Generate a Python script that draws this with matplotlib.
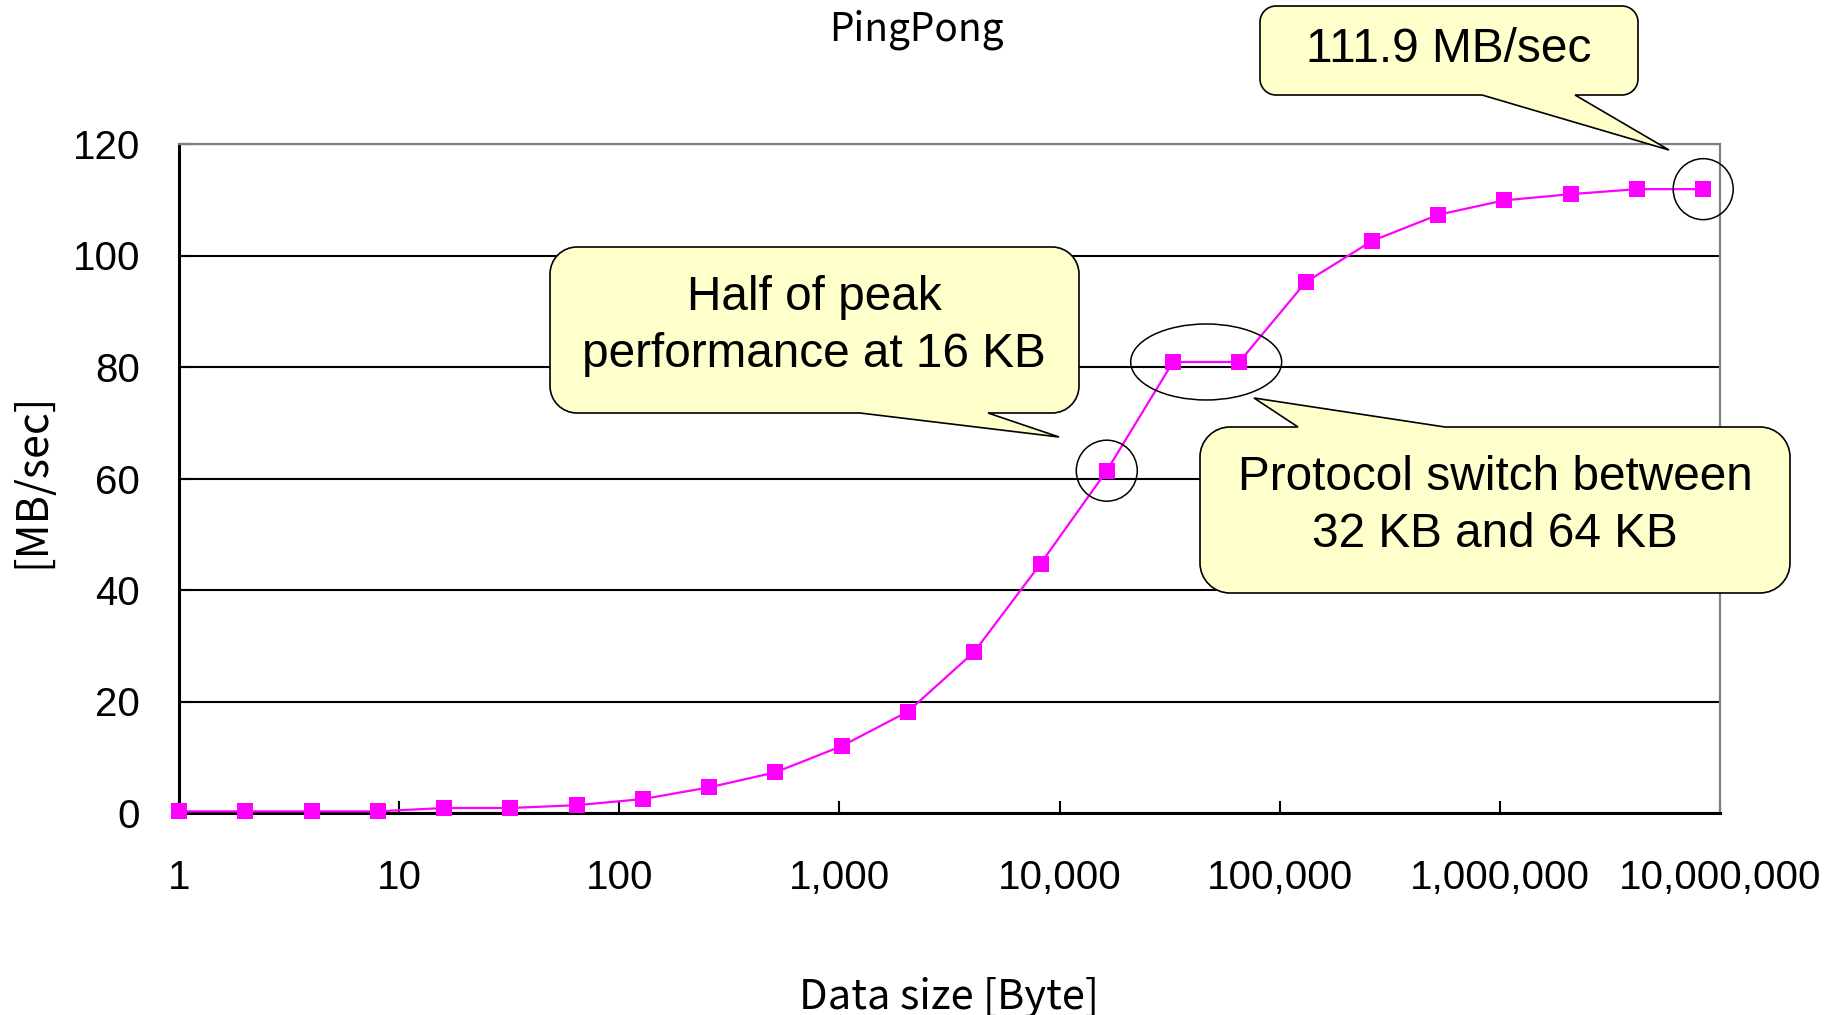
import matplotlib
matplotlib.use('Agg')
import matplotlib.pyplot as plt
from matplotlib.path import Path
from matplotlib.patches import PathPatch, Ellipse
from matplotlib.transforms import Affine2D, ScaledTranslation
from matplotlib.ticker import FuncFormatter, NullLocator, FixedLocator

# data
data_size = [1, 2, 4, 8, 16, 32, 64, 128, 256, 512, 1024, 2048, 4096, 8192,
             16384, 32768, 65536, 131072, 262144, 524288, 1048576, 2097152,
             4194304, 8388608]
mb_per_sec = [0.3, 0.3, 0.3, 0.3, 0.9, 0.9, 1.4, 2.5, 4.6, 7.3, 12.0, 18.2,
              28.9, 44.7, 61.4, 80.9, 80.9, 95.2, 102.6, 107.3, 109.9, 111.0,
              111.9, 111.9]
x_ticks = [1, 10, 100, 1000, 10000, 100000, 1000000, 10000000]
y_ticks = [0, 20, 40, 60, 80, 100, 120]

W, H = 1835, 1015
SANS = ['Liberation Sans', 'DejaVu Sans']
JP = ['Noto Sans CJK JP', 'DejaVu Sans']
YELLOW = '#FFFFCC'

fig = plt.figure(figsize=(W / 100, H / 100), dpi=100)
ax = fig.add_axes([179 / W, 202 / H, 1541 / W, 669 / H])

ax.plot(data_size, mb_per_sec, color='#FF00FF', lw=1.6, marker='s', ms=12,
        mew=0, zorder=3, clip_on=False)

ax.set_xscale('log')
ax.set_xlim(1, 1e7)
ax.set_ylim(0, 120)
ax.xaxis.set_major_locator(FixedLocator(x_ticks))
ax.xaxis.set_minor_locator(NullLocator())
ax.xaxis.set_major_formatter(FuncFormatter(lambda v, p: f'{int(round(v)):,}'))
ax.set_yticks(y_ticks)

ax.yaxis.grid(True, color='black', lw=1.5)
ax.set_axisbelow(True)
ax.tick_params(axis='x', direction='in', length=9, width=1.5, pad=33,
               labelsize=29)
ax.tick_params(axis='y', direction='in', length=9, width=1.5, pad=28,
               labelsize=29)
for lab in ax.get_xticklabels() + ax.get_yticklabels():
    lab.set_family(SANS)

for s in ['left', 'bottom']:
    ax.spines[s].set_color('black')
    ax.spines[s].set_linewidth(2.2)
for s in ['top', 'right']:
    ax.spines[s].set_color('#808080')
    ax.spines[s].set_linewidth(1.6)

fig.text(916 / W, 1 - 30 / H, 'PingPong', ha='center', va='center',
         fontsize=28, family=JP)
fig.text(949 / W, 1 - 997 / H, 'Data size [Byte]', ha='center', va='center',
         fontsize=30, family=JP)
fig.text(32 / W, 1 - 480 / H, '[MB/sec]', ha='center', va='center',
         rotation=90, fontsize=31, family=JP)

# callout boxes, drawn in pixel space of the figure
px = Affine2D().scale(1 / W, 1 / H) + fig.transFigure


def callout(x0, y0, x1, y1, r, side, b0, b1, tip):
    k = 0.5523 * r
    v = [(x0 + r, y0)]
    c = [Path.MOVETO]
    if side == 'top':
        v += [(b0, y0), tip, (b1, y0)]
        c += [Path.LINETO] * 3
    v += [(x1 - r, y0), (x1 - r + k, y0), (x1, y0 + r - k), (x1, y0 + r)]
    c += [Path.LINETO] + [Path.CURVE4] * 3
    v += [(x1, y1 - r), (x1, y1 - r + k), (x1 - r + k, y1), (x1 - r, y1)]
    c += [Path.LINETO] + [Path.CURVE4] * 3
    if side == 'bottom':
        v += [(b1, y1), tip, (b0, y1)]
        c += [Path.LINETO] * 3
    v += [(x0 + r, y1), (x0 + r - k, y1), (x0, y1 - r + k), (x0, y1 - r)]
    c += [Path.LINETO] + [Path.CURVE4] * 3
    v += [(x0, y0 + r), (x0, y0 + r - k), (x0 + r - k, y0), (x0 + r, y0)]
    c += [Path.LINETO] + [Path.CURVE4] * 3
    v.append((x0 + r, y0))
    c.append(Path.CLOSEPOLY)
    v = [(a, H - b) for a, b in v]
    fig.add_artist(PathPatch(Path(v, c), facecolor=YELLOW, edgecolor='black',
                             lw=1.2, transform=px, zorder=5))


callout(1260, 6, 1638, 95, 16, 'bottom', 1482, 1575, (1669, 150))
fig.text(1449 / W, 1 - 50 / H, '111.9 MB/sec', ha='center', va='center',
         fontsize=34.5, family=SANS, zorder=6)

callout(550, 247, 1079, 413, 27, 'bottom', 860, 988, (1059, 437))
fig.text(814 / W, 1 - 326 / H, 'Half of peak\nperformance at 16 KB',
         ha='center', va='center', fontsize=34.4, family=SANS, zorder=6,
         linespacing=1.36)

callout(1200, 427, 1790, 593, 30, 'top', 1298, 1445, (1254, 398))
fig.text(1495 / W, 1 - 506 / H, 'Protocol switch between\n32 KB and 64 KB',
         ha='center', va='center', fontsize=34.4, family=SANS, zorder=6,
         linespacing=1.36)


# ellipses round the highlighted points (size in pixels)
def ring(xd, yd, w, h):
    tr = fig.dpi_scale_trans + ScaledTranslation(xd, yd, ax.transData)
    fig.add_artist(Ellipse((0, 0), w / 100, h / 100, transform=tr,
                           fill=False, edgecolor='black', lw=1.1, zorder=4))


ring(data_size[14], mb_per_sec[14], 61, 61)
ring((data_size[15] * data_size[16]) ** 0.5, mb_per_sec[15], 151, 76)
ring(data_size[23], mb_per_sec[23], 60, 61)

fig.savefig('out.png', dpi=100)
